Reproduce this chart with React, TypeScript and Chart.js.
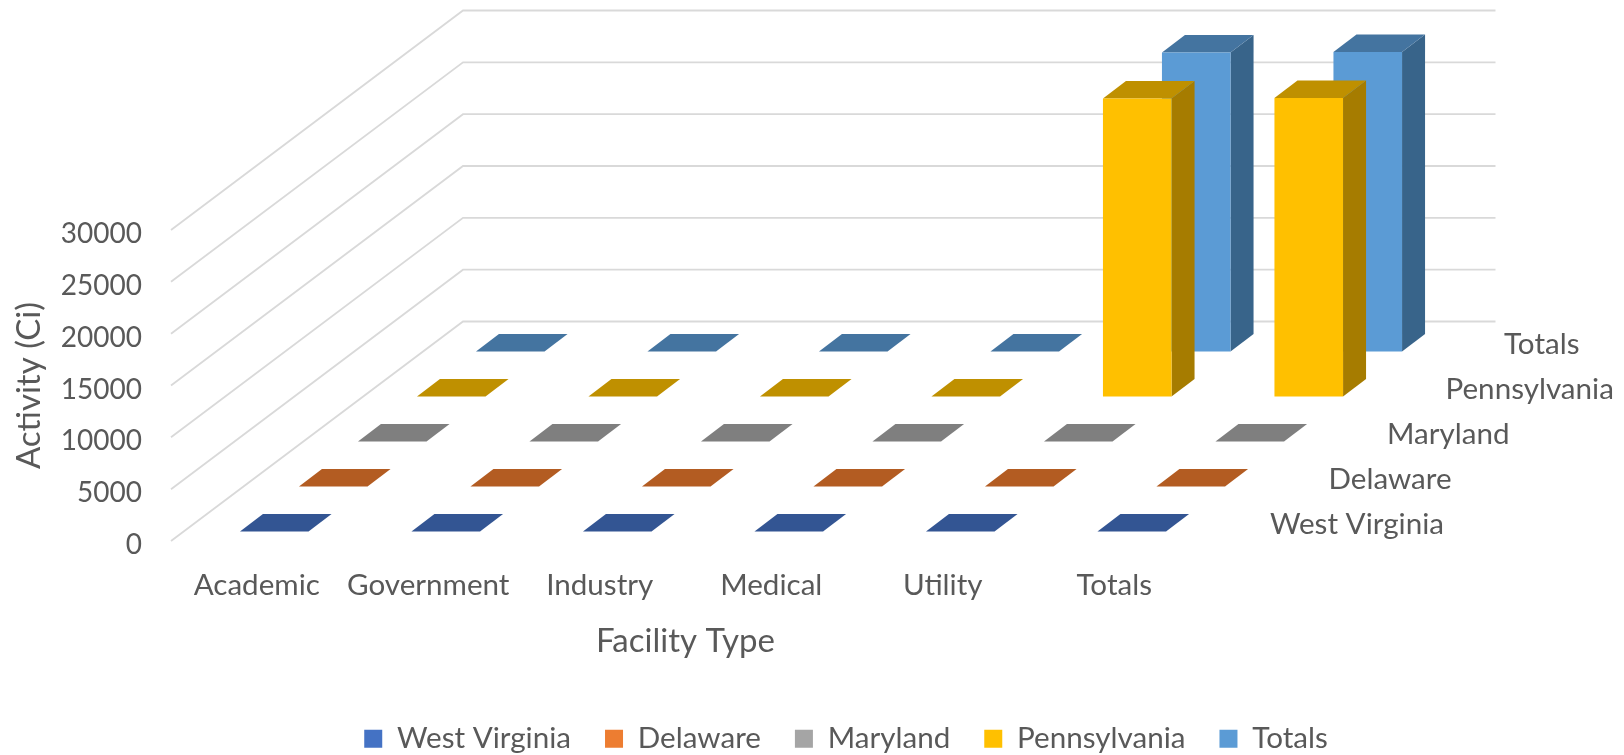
import React, { useEffect, useRef } from "react";
import { Chart, registerables } from "chart.js";

Chart.register(...registerables);

const categories = ["Academic", "Government", "Industry", "Medical", "Utility", "Totals"];
const westVirginia = [0, 0, 0, 0, 0, 0];
const delaware = [0, 0, 0, 0, 0, 0];
const maryland = [0, 0, 0, 0, 0, 0];
const pennsylvania = [0, 0, 0, 0, 28750, 28800];
const totals = [0, 0, 0, 0, 28850, 28900];
const yTicksMax = 30000;
const yTicksStep = 5000;

const FONT = "Lato, 'Open Sans', sans-serif";
const TEXT = "#595959";
const GRID = "#d9d9d9";
const ROW_DX = 59;
const ROW_DY = 45;
const BAR_OFF_X = 17.5;
const BAR_OFF_Y = 9.5;
const BAR_DX = 23;
const BAR_DY = 17.5;
const WALL_DX = 292;
const WALL_DY = 219.5;
const AREA_BOTTOM = 541;

const seriesStyles = [
  { front: "#4472C4", top: "#335593", side: "#2B4A80" },
  { front: "#ED7D31", top: "#B35C22", side: "#A14F1C" },
  { front: "#A5A5A5", top: "#7F7F7F", side: "#6F6F6F" },
  { front: "#FFC000", top: "#BF9000", side: "#A67C00" },
  { front: "#5B9BD5", top: "#4474A0", side: "#38648A" },
];

const bars3d = {
  id: "bars3d",
  afterLayout(chart: any) {
    const legend = chart.legend;
    legend.left += 34;
    legend.right += 34;
    const h = legend.bottom - legend.top;
    legend.top = 690;
    legend.bottom = 690 + h;
  },
  afterDatasetsUpdate(chart: any) {
    chart.data.datasets.forEach((_: any, row: number) => {
      chart.getDatasetMeta(row).data.forEach((el: any) => {
        el.x += BAR_OFF_X + row * ROW_DX;
        const dy = BAR_OFF_Y + row * ROW_DY;
        el.y -= dy;
        el.base -= dy;
      });
    });
  },
  beforeDatasetsDraw(chart: any) {
    const { ctx, scales } = chart;
    const { x, y } = scales;
    ctx.save();
    ctx.strokeStyle = GRID;
    ctx.lineWidth = 1.8;
    y.ticks.forEach((t: any) => {
      const py = y.getPixelForValue(t.value);
      ctx.beginPath();
      ctx.moveTo(x.left, py);
      ctx.lineTo(x.left + WALL_DX, py - WALL_DY);
      ctx.lineTo(x.right + WALL_DX + 3.5, py - WALL_DY);
      ctx.stroke();
    });
    ctx.restore();
  },
  beforeDatasetDraw(chart: any, args: any) {
    const { ctx } = chart;
    const style = seriesStyles[args.index];
    ctx.save();
    args.meta.data.forEach((el: any) => {
      const l = el.x - el.width / 2;
      const r = el.x + el.width / 2;
      ctx.fillStyle = style.side;
      ctx.beginPath();
      ctx.moveTo(r, el.y);
      ctx.lineTo(r + BAR_DX, el.y - BAR_DY);
      ctx.lineTo(r + BAR_DX, el.base - BAR_DY);
      ctx.lineTo(r, el.base);
      ctx.closePath();
      ctx.fill();
      ctx.fillStyle = style.top;
      ctx.beginPath();
      ctx.moveTo(l, el.y);
      ctx.lineTo(r, el.y);
      ctx.lineTo(r + BAR_DX, el.y - BAR_DY);
      ctx.lineTo(l + BAR_DX, el.y - BAR_DY);
      ctx.closePath();
      ctx.fill();
    });
    ctx.restore();
  },
  afterDatasetsDraw(chart: any) {
    const { ctx, scales } = chart;
    ctx.save();
    ctx.fillStyle = TEXT;
    ctx.font = `29.6px ${FONT}`;
    ctx.textAlign = "left";
    ctx.textBaseline = "middle";
    chart.data.datasets.forEach((ds: any, row: number) => {
      ctx.fillText(
        ds.label,
        scales.x.right + 70 + row * 58.5,
        scales.y.getPixelForValue(0) - 17 - row * 45
      );
    });
    ctx.restore();
  },
};

export default function App() {
  const ref = useRef<HTMLCanvasElement>(null);
  useEffect(() => {
    const mk = (label: string, data: number[], i: number) => ({
      label,
      data,
      backgroundColor: seriesStyles[i].front,
      borderWidth: 0,
      grouped: false,
      barPercentage: 0.4,
      categoryPercentage: 1,
      clip: false as any,
    });
    const chart = new Chart(ref.current!, {
      type: "bar",
      data: {
        labels: categories,
        datasets: [
          mk("West Virginia", westVirginia, 0),
          mk("Delaware", delaware, 1),
          mk("Maryland", maryland, 2),
          mk("Pennsylvania", pennsylvania, 3),
          mk("Totals", totals, 4),
        ],
      },
      options: {
        responsive: false,
        animation: false,
        layout: { padding: { top: 230, left: 0, right: 0, bottom: 0 } },
        plugins: {
          tooltip: { enabled: false },
          legend: {
            position: "bottom",
            labels: {
              boxWidth: 18,
              boxHeight: 18,
              padding: 34,
              color: TEXT,
              font: { family: FONT, size: 29.6 },
            },
          },
        },
        scales: {
          x: {
            grid: { display: false, drawTicks: false },
            border: { display: false },
            afterFit: (s: any) => { s.height = 755 - AREA_BOTTOM - s.chart.legend.height; },
            ticks: {
              autoSkip: false,
              maxRotation: 0,
              padding: 27,
              color: TEXT,
              font: { family: FONT, size: 29.6 },
            },
            title: {
              display: true,
              text: "Facility Type",
              color: TEXT,
              font: { family: FONT, size: 33 },
              padding: { top: 0, bottom: 20 },
            },
          },
          y: {
            min: 0,
            max: yTicksMax,
            grid: { display: false, drawTicks: false },
            border: { display: false },
            afterFit: (s: any) => { s.width = 171; },
            ticks: {
              stepSize: yTicksStep,
              padding: 29,
              labelOffset: 4,
              color: TEXT,
              font: { family: FONT, size: 28 },
              callback: (v: any) => String(v),
            },
            title: {
              display: true,
              text: "Activity (Ci)",
              color: TEXT,
              font: { family: FONT, size: 33 },
              padding: { top: 10, bottom: 0 },
            },
          },
          rightSpace: {
            position: "right",
            display: true,
            grid: { display: false, drawTicks: false },
            border: { display: false },
            ticks: { display: false },
            afterFit: (s: any) => { s.width = 424; },
          },
        },
      } as any,
      plugins: [bars3d],
    });
    return () => chart.destroy();
  }, []);
  return (
    <div style={{ position: "fixed", left: 0, top: 0, width: 1624, height: 755, background: "#fff" }}>
      <canvas ref={ref} width={1624} height={755} style={{ display: "block" }} />
    </div>
  );
}
